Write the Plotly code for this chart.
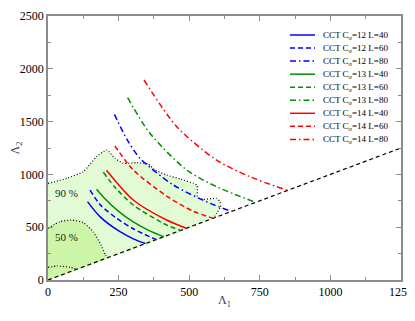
import plotly.graph_objects as go

# ---------------- data ----------------
diag_x = [0, 1250]
diag_y = [0, 1250]

c90_x = [0, 66, 125, 172, 208, 237, 267, 314, 355, 379, 420, 470, 515, 527, 529, 530, 550, 597, 609, 611, 597, 588]
c90_y = [915, 963, 1026, 1168, 1231, 1152, 1105, 1111, 1098, 1042, 994, 955, 915, 900, 860, 780, 764, 773, 742, 694, 631, 588]

c50_x = [0, 42, 84, 125, 160, 188, 203, 210]
c50_y = [489, 552, 568, 543, 457, 330, 240, 210]

cin_x = [0, 31, 78, 102]
cin_y = [120, 133, 120, 102]

labels_contour = ["90 %", "50 %"]
labels_x = [66, 66]
labels_y = [827, 404]

curve_names = ["CCT C<sub>σ</sub>=12 L=40", "CCT C<sub>σ</sub>=12 L=60", "CCT C<sub>σ</sub>=12 L=80",
               "CCT C<sub>σ</sub>=13 L=40", "CCT C<sub>σ</sub>=13 L=60", "CCT C<sub>σ</sub>=13 L=80",
               "CCT C<sub>σ</sub>=14 L=40", "CCT C<sub>σ</sub>=14 L=60", "CCT C<sub>σ</sub>=14 L=80"]

cct12_40_x = [140, 184, 255, 302, 345]
cct12_40_y = [742, 600, 457, 390, 345]
cct12_60_x = [149, 184, 240, 302, 383]
cct12_60_y = [852, 715, 590, 485, 383]
cct12_80_x = [235, 280, 326, 444, 574, 650]
cct12_80_y = [1569, 1330, 1152, 900, 726, 650]

cct13_40_x = [172, 200, 250, 302, 360, 410]
cct13_40_y = [860, 775, 650, 550, 465, 410]
cct13_60_x = [196, 240, 302, 420, 470]
cct13_60_y = [1020, 870, 710, 521, 470]
cct13_80_x = [282, 361, 491, 600, 735]
cct13_80_y = [1726, 1389, 1042, 880, 735]

cct14_40_x = [207, 302, 420, 490]
cct14_40_y = [1040, 758, 568, 490]
cct14_60_x = [237, 302, 420, 515, 585]
cct14_60_y = [1269, 1042, 795, 650, 585]
cct14_80_x = [340, 456, 597, 715, 848]
cct14_80_y = [1894, 1452, 1136, 978, 848]

x_ticks = [0, 250, 500, 750, 1000, 1250]
y_ticks = [0, 500, 1000, 1500, 2000, 2500]

# ---------------- styles ----------------
BLUE, GREEN, RED = "#0000ff", "#008f00", "#ff0000"
DASHES = {"solid": "solid", "dash": "5px,3px", "dashdot": "6px,3px,1.5px,3px"}
FONT = "Liberation Serif"

curves = [
    (cct12_40_x, cct12_40_y, BLUE, "solid"),
    (cct12_60_x, cct12_60_y, BLUE, "dash"),
    (cct12_80_x, cct12_80_y, BLUE, "dashdot"),
    (cct13_40_x, cct13_40_y, GREEN, "solid"),
    (cct13_60_x, cct13_60_y, GREEN, "dash"),
    (cct13_80_x, cct13_80_y, GREEN, "dashdot"),
    (cct14_40_x, cct14_40_y, RED, "solid"),
    (cct14_60_x, cct14_60_y, RED, "dash"),
    (cct14_80_x, cct14_80_y, RED, "dashdot"),
]

fig = go.Figure()

# filled credible regions (closed along the diagonal back to the origin)
fig.add_trace(go.Scatter(x=c90_x + [0], y=c90_y + [0], mode="lines", fill="toself",
                         fillcolor="#e3fbd4", line=dict(width=0, shape="spline", smoothing=0.5),
                         hoverinfo="skip", showlegend=False))
fig.add_trace(go.Scatter(x=c50_x + [0], y=c50_y + [0], mode="lines", fill="toself",
                         fillcolor="#ccf5a8", line=dict(width=0, shape="spline", smoothing=0.5),
                         hoverinfo="skip", showlegend=False))

for cx, cy in [(c90_x, c90_y), (c50_x, c50_y), (cin_x, cin_y)]:
    fig.add_trace(go.Scatter(x=cx, y=cy, mode="lines",
                             line=dict(color="black", width=1.2, dash="1px,2px", shape="spline", smoothing=0.5),
                             showlegend=False))

fig.add_trace(go.Scatter(x=diag_x, y=diag_y, mode="lines",
                         line=dict(color="black", width=1.2, dash="4px,3px"), showlegend=False))

for (cx, cy, col, ds), name in zip(curves, curve_names):
    fig.add_trace(go.Scatter(x=cx, y=cy, mode="lines", name=name,
                             line=dict(color=col, width=1.5, dash=DASHES[ds], shape="spline", smoothing=0.8),
                             showlegend=False))

for t, lx, ly in zip(labels_contour, labels_x, labels_y):
    fig.add_annotation(x=lx, y=ly, text=t, showarrow=False,
                       font=dict(family=FONT, size=11, color="#222222"))

# The page body has an 8px default margin, so margins are set so that the
# plot area lands where the reference has it.
OFF = 8
W, H = 415, 301
ml, mt = 48 - OFF, 16 - OFF
pw, ph = 353, 264
mr = W - ml - pw
mb = H - mt - ph
def px2x(p): return (p - OFF - ml) / pw
def py2y(p): return (mt + ph - (p - OFF)) / ph
for i, ((cx, cy, col, ds), name) in enumerate(zip(curves, curve_names)):
    yy = py2y(35 + 13.05 * i)
    fig.add_shape(type="line", xref="paper", yref="paper", x0=px2x(290), x1=px2x(315), y0=yy, y1=yy,
                  line=dict(color=col, width=1.5, dash=DASHES[ds]))
    fig.add_annotation(xref="paper", yref="paper", x=px2x(321), y=yy, text=name, showarrow=False,
                       xanchor="left", yanchor="middle", font=dict(family=FONT, size=9, color="black"))

axis_common = dict(showline=True, mirror="ticks", linecolor="#8c8c8c", linewidth=1.5,
                   ticks="inside", ticklen=5, tickwidth=1, tickcolor="#8c8c8c",
                   showgrid=False, zeroline=False, automargin=False,
                   tickfont=dict(family=FONT, size=12, color="black"))

fig.update_layout(
    width=W, height=H, margin=dict(l=ml, r=mr, t=mt, b=mb),
    plot_bgcolor="white", paper_bgcolor="white",
    xaxis=dict(range=[0, 1250], tickvals=x_ticks, ticktext=[str(v) for v in x_ticks],
               ticklabeloverflow="allow",
               minor=dict(dtick=125, ticklen=3, ticks="inside", tickcolor="#8c8c8c"),
               title=dict(text="Λ<sub>1</sub>", font=dict(family=FONT, size=12), standoff=2),
               **axis_common),
    yaxis=dict(range=[0, 2500], tickvals=y_ticks, ticktext=[str(v) for v in y_ticks],
               minor=dict(dtick=250, ticklen=3, ticks="inside", tickcolor="#8c8c8c"),
               title=dict(text="Λ<sub>2</sub>", font=dict(family=FONT, size=12), standoff=4),
               **axis_common),
)

fig.write_html("out.html")
